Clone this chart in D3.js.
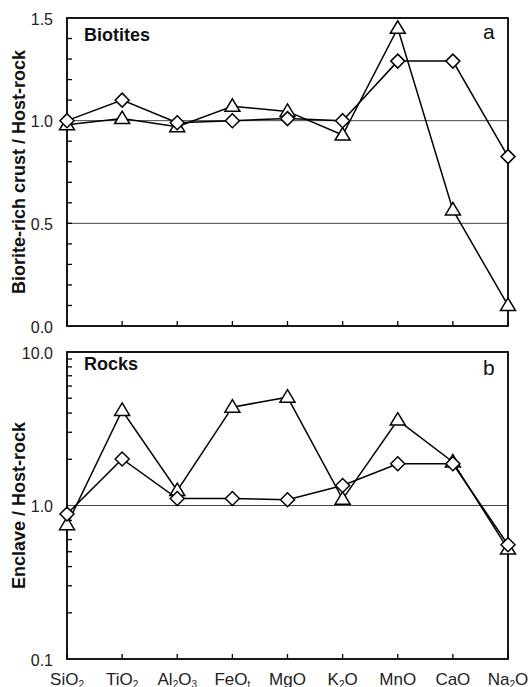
<!DOCTYPE html>
<html>
<head>
<meta charset="utf-8">
<script src="https://cdn.jsdelivr.net/npm/d3@7"></script>
<style>
  body { margin: 0; background: #fff; }
  svg { font-family: "Liberation Sans", Arial, sans-serif; }
</style>
</head>
<body>
<div id="chart-area"></div>
<script>
// SVG Size
let width = 530,
	height = 687;

// oxides on the x axis
let oxides = ["SiO2", "TiO2", "Al2O3", "FeOt", "MgO", "K2O", "MnO", "CaO", "Na2O"];

// panel a : biotites, biorite-rich crust / host-rock
let biotDiamond  = [1.00, 1.10, 0.99, 1.00, 1.01, 1.00, 1.29, 1.29, 0.825];
let biotTriangle = [0.98, 1.01, 0.97, 1.07, 1.045, 0.93, 1.45, 0.565, 0.10];

// panel b : rocks, enclave / host-rock
let rockDiamond  = [0.88, 2.01, 1.11, 1.11, 1.09, 1.35, 1.87, 1.87, 0.555];
let rockTriangle = [0.75, 4.16, 1.25, 4.37, 5.08, 1.10, 3.6, 1.92, 0.52];

let topTicks = [0.0, 0.5, 1.0, 1.5];
let botTicks = [0.1, 1.0, 10.0];

let svg = d3.select("#chart-area").append("svg").attr("width", width).attr("height", height);

let left = 67, right = 508;
let x = d3.scalePoint().domain(oxides).range([left, right]);

let yTop = d3.scaleLinear().domain([0, 1.5]).range([326, 18]);
let yBot = d3.scaleLog().domain([0.1, 10]).range([659, 352]);

// diamond and triangle symbols
let diamond = "M0,-7L7,0L0,7L-7,0Z";
let triangle = "M0,-7.5L7.5,5L-7.5,5Z";

function drawPanel(y, ticks, minor, grid, series, title, tag, tagY, letter, letterY, showLabels) {
	let g = svg.append("g");
	let y0 = y.range()[0], y1 = y.range()[1];

	// gridlines
	g.selectAll(".grid")
	.data(grid)
	.enter()
	.append("line")
	.attr("x1", left).attr("x2", right)
	.attr("y1", d => y(d)).attr("y2", d => y(d))
	.attr("stroke", "#444")
	.attr("stroke-width", 1);

	// minor ticks on the left, pointing inwards
	g.selectAll(".minor")
	.data(minor)
	.enter()
	.append("line")
	.attr("x1", left).attr("x2", left + 5)
	.attr("y1", d => y(d)).attr("y2", d => y(d))
	.attr("stroke", "#000")
	.attr("stroke-width", 1.3);

	// x ticks, pointing up
	g.selectAll(".xt")
	.data(oxides)
	.enter()
	.append("line")
	.attr("x1", d => x(d)).attr("x2", d => x(d))
	.attr("y1", y0).attr("y2", y0 - 5)
	.attr("stroke", "#000")
	.attr("stroke-width", 1.3);

	// frame
	g.append("rect")
	.attr("x", left).attr("y", y1)
	.attr("width", right - left).attr("height", y0 - y1)
	.attr("fill", "none")
	.attr("stroke", "#000")
	.attr("stroke-width", 1.8);

	// y tick labels
	g.selectAll(".ylab")
	.data(ticks)
	.enter()
	.append("text")
	.attr("x", 53)
	.attr("y", d => y(d) + 6.5)
	.attr("text-anchor", "end")
	.attr("font-size", 16)
	.attr("fill", "#222")
	.text(d => d3.format(".1f")(d));

	// y axis title
	g.append("text")
	.attr("transform", "translate(25," + ((y0 + y1) / 2) + ") rotate(-90)")
	.attr("text-anchor", "middle")
	.attr("font-size", 18)
	.attr("font-weight", "bold")
	.attr("fill", "#111")
	.text(title);

	g.append("text")
	.attr("x", 84).attr("y", tagY)
	.attr("font-size", 18)
	.attr("font-weight", "bold")
	.attr("fill", "#111")
	.text(tag);

	g.append("text")
	.attr("x", 483).attr("y", letterY)
	.attr("font-size", 21)
	.attr("fill", "#111")
	.text(letter);

	// series: lines then markers
	series.forEach(s => {
		let pts = oxides.map((o, i) => [x(o), y(s.values[i])]);
		g.append("path")
		.attr("d", d3.line()(pts))
		.attr("fill", "none")
		.attr("stroke", "#000")
		.attr("stroke-width", 1.5);

		g.selectAll(null)
		.data(pts)
		.enter()
		.append("path")
		.attr("d", s.shape)
		.attr("transform", d => "translate(" + d[0] + "," + d[1] + ")")
		.attr("fill", "#fff")
		.attr("stroke", "#000")
		.attr("stroke-width", 1.5);
	});

	if (showLabels) {
		let lab = g.selectAll(".xlab")
		.data(oxides)
		.enter()
		.append("text")
		.attr("x", d => x(d))
		.attr("y", 685)
		.attr("text-anchor", "middle")
		.attr("font-size", 17)
		.attr("fill", "#222");

		lab.each(function(d) {
			let t = d3.select(this);
			// odd parts are subscripts (digits, and the "t" of FeOt)
			d.split(/(\d|t$)/).forEach((part, i) => {
				if (!part) return;
				let sub = i % 2 === 1;
				t.append("tspan")
				.attr("font-size", sub ? 10 : 17)
				.attr("baseline-shift", sub ? "-30%" : null)
				.text(part);
			});
		});
	}
}

drawPanel(yTop, topTicks, d3.range(0.1, 1.5, 0.1), [0.5, 1.0],
	[{ values: biotTriangle, shape: triangle }, { values: biotDiamond, shape: diamond }],
	"Biorite-rich crust / Host-rock", "Biotites", 41, "a", 39, false);

let logMinor = [];
[0.1, 1].forEach(b => d3.range(2, 10).forEach(m => logMinor.push(b * m)));

drawPanel(yBot, botTicks, logMinor, [1.0],
	[{ values: rockTriangle, shape: triangle }, { values: rockDiamond, shape: diamond }],
	"Enclave / Host-rock", "Rocks", 370, "b", 375, true);
</script>
</body>
</html>
